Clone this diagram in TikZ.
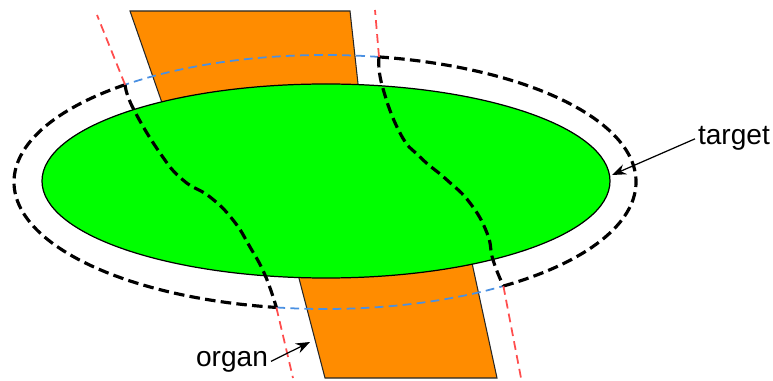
\documentclass[tikz,border=0pt]{standalone}
\usepackage{fontspec}
\setmainfont{Liberation Sans}
\usetikzlibrary{arrows.meta, calc}
\definecolor{organorange}{HTML}{FF8C00}
\definecolor{targetgreen}{HTML}{00FF00}
\definecolor{marginblue}{HTML}{4A90E2}
\definecolor{cutred}{HTML}{FF4D4D}

\begin{document}
\begin{tikzpicture}[
        x=0.02cm, y=0.02cm,
        every node/.style={font=\fontsize{16}{18}\selectfont},
        organpart/.style={draw=black!85, fill=organorange, line width=0.6pt},
        targetbody/.style={draw=black, fill=targetgreen, line width=0.7pt},
        margin/.style={line width=1.8pt, dash pattern=on 6pt off 3pt},
        hidden/.style={draw=marginblue, line width=1pt, dash pattern=on 5pt off 3pt},
        cutline/.style={draw=cutred, line width=1pt, dash pattern=on 5pt off 3pt},
        ptr/.style={-{Stealth[length=8pt, width=6pt]}, line width=0.7pt},
        lbl/.style={inner sep=1.5pt},
      ]
      \useasboundingbox (0,0) rectangle (773,-381);

      \coordinate (mc) at (325,-182);
      \coordinate (tl) at ($(mc)+(130:311 and 127)$);
      \coordinate (tr) at ($(mc)+(80:311 and 127)$);
      \coordinate (bl) at ($(mc)+(261:311 and 127)$);
      \coordinate (br) at ($(mc)+(305:311 and 127)$);

      \draw[organpart] (130,-11) -- (350,-11) -- (362,-120) -- (168,-120) -- cycle;
      \draw[organpart] (289,-240) -- (467,-240) -- (497,-378) -- (325,-378) -- cycle;

      \draw[targetbody] (326,-181) ellipse [x radius=284, y radius=97];
      \coordinate (tgttip) at (612,-175);

      \draw[margin] (tl) arc[start angle=130, end angle=261, x radius=311, y radius=127];
      \draw[margin] (br) arc[start angle=305, end angle=440, x radius=311, y radius=127];
      \draw[hidden] (tr) arc[start angle=80, end angle=130, x radius=311, y radius=127];
      \draw[hidden] (bl) arc[start angle=261, end angle=305, x radius=311, y radius=127];

      \draw[margin] plot[smooth, tension=0.8] coordinates {(tl) (133,-108) (160,-153) (183,-180)
        (210,-197) (233,-220) (250,-247) (265,-275) (bl)};
      \draw[margin] plot[smooth, tension=0.8] coordinates {(tr) (382,-85) (400,-133) (420,-157)
        (447,-180) (470,-203) (487,-233) (493,-260) (br)};

      \draw[cutline] (tl) -- (97,-15);
      \draw[cutline] (bl) -- (293,-378);
      \draw[cutline] (tr) -- (375,-10);
      \draw[cutline] (br) -- (521,-378);

      \node[lbl, anchor=base west] (targetlbl) at (695,-145) {target};
      \node[lbl, anchor=base east] (organlbl) at (271,-366) {organ};
      \coordinate (organtip) at (310,-342);

      \draw[ptr] (targetlbl.west) -- (tgttip);
      \draw[ptr] (organlbl.east) -- (organtip);
    \end{tikzpicture}
\end{document}
